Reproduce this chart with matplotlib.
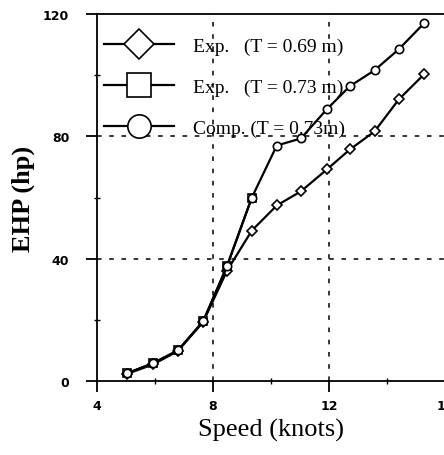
import matplotlib
matplotlib.use("Agg")
import matplotlib.pyplot as plt
from matplotlib.ticker import MultipleLocator

# speeds (knots)
speed = [5.03, 5.93, 6.79, 7.66, 8.48, 9.34, 10.2, 11.03, 11.93, 12.72, 13.57, 14.41, 15.28]

# Exp. (T = 0.69 m)
ehp_exp069 = [2.3, 5.4, 9.8, 19.3, 36.0, 49.2, 57.4, 62.0, 69.2, 75.7, 81.6, 92.1, 100.3]
# Exp. (T = 0.73 m)
speed_exp073 = speed[:6]
ehp_exp073 = [2.5, 5.8, 10.0, 19.5, 37.5, 60.0]
# Comp. (T = 0.73m)
ehp_comp073 = [2.5, 5.8, 10.0, 19.5, 37.5, 60.0, 77.0, 79.3, 88.9, 96.4, 101.6, 108.5, 117.0]

labels = ["Exp.   (T = 0.69 m)", "Exp.   (T = 0.73 m)", "Comp. (T = 0.73m)"]

fig = plt.figure(figsize=(4.44, 4.56), dpi=100)
ax = fig.add_axes([97/444, 1 - 382/456, 348/444, 367/456])

style = dict(color="black", lw=1.6, markerfacecolor="white",
             markeredgecolor="black", markeredgewidth=1.2)
ax.plot(speed, ehp_exp069, marker="D", markersize=5.5, **style, label=labels[0])
ax.plot(speed_exp073, ehp_exp073, marker="s", markersize=6, **style, label=labels[1])
ax.plot(speed, ehp_comp073, marker="o", markersize=6, **style, label=labels[2])

ax.set_xlim(4, 16)
ax.set_ylim(0, 120)
ax.xaxis.set_major_locator(MultipleLocator(4))
ax.xaxis.set_minor_locator(MultipleLocator(2))
ax.yaxis.set_major_locator(MultipleLocator(40))
ax.yaxis.set_minor_locator(MultipleLocator(20))

for v in [8, 12]:
    ax.axvline(v, color="black", lw=1.1, linestyle=(0, (3, 5)), zorder=0)
for v in [40, 80]:
    ax.axhline(v, color="black", lw=1.1, linestyle=(0, (3, 5)), zorder=0)

ax.spines["right"].set_visible(False)
for s in ["left", "bottom", "top"]:
    ax.spines[s].set_linewidth(1.3)

tickfont = ["Liberation Sans Narrow", "DejaVu Sans"]
ax.tick_params(axis="both", which="major", direction="out", length=8, width=1.3)
ax.tick_params(axis="both", which="minor", direction="inout", length=5, width=1.0)
ax.tick_params(axis="y", which="major", pad=12)
ax.tick_params(axis="x", which="major", pad=5)
for t in ax.get_xticklabels() + ax.get_yticklabels():
    t.set_family(tickfont)
    t.set_fontweight("bold")
    t.set_fontsize(9)

ax.set_xlabel("Speed (knots)", family="Liberation Serif", fontsize=19, labelpad=4)
ax.set_ylabel("EHP (hp)", family="Liberation Serif", fontsize=19, fontweight="bold", labelpad=6)

leg = ax.legend(loc="upper left", bbox_to_anchor=(0.02, 0.936), frameon=False,
                markerscale=2.8, handlelength=3.6, handletextpad=1.0,
                labelspacing=1.2, borderaxespad=0, borderpad=0,
                prop={"family": "Liberation Serif", "size": 14})

fig.savefig("out.png", dpi=100)
